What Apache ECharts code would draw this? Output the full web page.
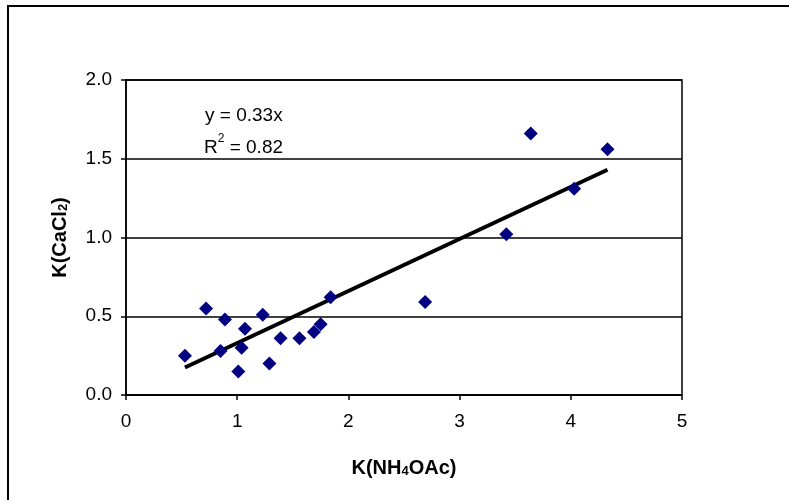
<!DOCTYPE html>
<html>
<head>
<meta charset="utf-8">
<script src="https://cdn.jsdelivr.net/npm/echarts@6/dist/echarts.min.js"></script>
<style>html,body{margin:0;padding:0;background:#fff}#c{width:789px;height:500px}</style>
</head>
<body>
<div id="c"></div>
<script>
// Data
var kNH4OAc = [0.53, 0.72, 0.89, 0.85, 1.07, 1.04, 1.01, 1.23, 1.29, 1.39, 1.56, 1.69, 1.75, 1.84, 2.69, 3.42, 3.64, 4.03, 4.33];
var kCaCl2  = [0.25, 0.55, 0.48, 0.28, 0.42, 0.30, 0.15, 0.51, 0.20, 0.36, 0.36, 0.40, 0.45, 0.62, 0.59, 1.02, 1.66, 1.31, 1.56];
var trendX = [0.53, 4.33];
var trendY = [0.175, 1.43];
var xTicks = [0, 1, 2, 3, 4, 5];
var yTicks = ['0.0', '0.5', '1.0', '1.5', '2.0'];
var eqText = 'y = 0.33x';
var r2Value = '0.82';

var pts = kNH4OAc.map(function (x, i) { return [x, kCaCl2[i]]; });
var trend = trendX.map(function (x, i) { return [x, trendY[i]]; });
var font = 'Liberation Sans, Arial, sans-serif';

var nameRich = {
  b: {fontFamily: font, fontSize: 20, fontWeight: 'bold', color: '#000', lineHeight: 24, verticalAlign: 'bottom'},
  s: {fontFamily: font, fontSize: 13, fontWeight: 'bold', color: '#000', lineHeight: 24, verticalAlign: 'bottom', padding: [7, 0, 0, 0]}
};

var chart = echarts.init(document.getElementById('c'), null, {renderer: 'canvas'});
chart.setOption({
  animation: false,
  backgroundColor: '#fff',
  grid: {left: 126, right: 107, top: 80, bottom: 105, show: true, borderColor: '#000', borderWidth: 1.5, backgroundColor: 'transparent'},
  xAxis: {
    type: 'value', min: 0, max: 5, interval: 1,
    axisLine: {lineStyle: {color: '#000', width: 1.5}},
    axisTick: {show: true, inside: false, length: 5, lineStyle: {color: '#000', width: 1.5}},
    splitLine: {show: false},
    axisLabel: {color: '#000', fontFamily: font, fontSize: 19, margin: 17,
      formatter: function (v) { return String(xTicks[Math.round(v)]); }},
    name: '{b|K(NH}{s|4}{b|OAc)}', nameLocation: 'middle', nameGap: 59, nameMoveOverlap: false,
    nameTextStyle: {rich: nameRich}
  },
  yAxis: {
    type: 'value', min: 0, max: 2, interval: 0.5,
    axisLine: {show: true, lineStyle: {color: '#000', width: 1.5}},
    axisTick: {show: true, inside: false, length: 5, lineStyle: {color: '#000', width: 1.5}},
    splitLine: {show: true, lineStyle: {color: '#000', width: 1.5}},
    axisLabel: {color: '#000', fontFamily: font, fontSize: 19, margin: 14,
      formatter: function (v) { return yTicks[Math.round(v / 0.5)]; }},
    name: '{b|K(CaCl}{s|2}{b|)}', nameLocation: 'middle', nameGap: 56, nameRotate: 90, nameMoveOverlap: false,
    nameTextStyle: {rich: nameRich}
  },
  series: [
    {type: 'line', data: trend, symbol: 'none', lineStyle: {color: '#000', width: 4}, z: 3},
    {type: 'scatter', data: pts, symbol: 'diamond', symbolSize: 14, itemStyle: {color: '#000080', opacity: 1}, z: 4}
  ],
  graphic: [
    {type: 'rect', shape: {x: 8, y: 6, width: 900, height: 700}, style: {fill: 'none', stroke: '#000', lineWidth: 2}, z: 10},
    {type: 'text', left: 205, top: 106, style: {text: eqText, font: '19px ' + font, fill: '#000'}, z: 10},
    {type: 'text', left: 204, top: 133, style: {
      text: '{n|R}{p|2}{n| = ' + r2Value + '}',
      rich: {
        n: {fontFamily: font, fontSize: 19, fill: '#000', lineHeight: 24, verticalAlign: 'bottom'},
        p: {fontFamily: font, fontSize: 12, fill: '#000', lineHeight: 24, verticalAlign: 'top', padding: [0, 0, 8, 0]}
      }}, z: 10}
  ]
});
</script>
</body>
</html>
